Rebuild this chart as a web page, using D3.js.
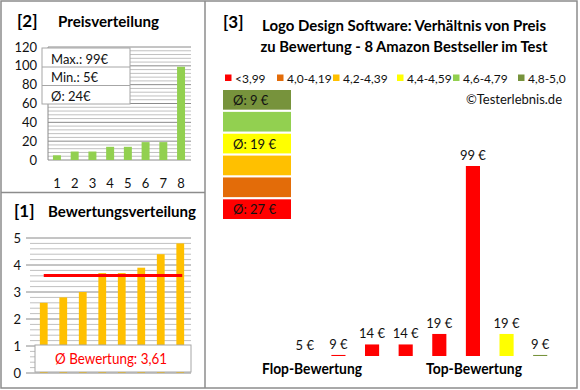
<!DOCTYPE html>
<html><head><meta charset="utf-8">
<script src="https://cdn.jsdelivr.net/npm/d3@7"></script>
<style>
html,body{margin:0;padding:0;background:#fff;}
svg{display:block;font-family:Lato,"Open Sans",sans-serif;}
</style></head>
<body><svg id="c" width="580" height="390"></svg>
<script>
// ---- data ----
const priceRank = ["1","2","3","4","5","6","7","8"];
const pricesSorted = [5, 9, 9, 14, 14, 19, 19, 99];
const priceTicks = [0, 20, 40, 60, 80, 100, 120];
const priceStats = ["Max.: 99€", "Min.: 5€", "Ø: 24€"];

const ratingsSorted = [2.6, 2.8, 3.0, 3.7, 3.7, 3.9, 4.4, 4.8];
const ratingTicks = [0, 1, 2, 3, 4, 5];
const avgRating = 3.61;
const avgRatingLabel = "Ø Bewertung: 3,61";

const productIds = ["p1","p2","p3","p4","p5","p6","p7","p8"];
const productPrices = [5, 9, 14, 14, 19, 99, 19, 9];
const productRatings = [2.6, 2.8, 3.0, 3.7, 3.7, 3.9, 4.4, 4.8];

const classLabels = ["<3,99","4,0-4,19","4,2-4,39","4,4-4,59","4,6-4,79","4,8-5,0"];
const classLower = [0, 4.0, 4.2, 4.4, 4.6, 4.8];
const classColors = ["#FF0000","#E36C09","#FFC000","#FFFF00","#92D050","#77933C"];

const title3 = ["Logo Design Software: Verhältnis von Preis", "zu Bewertung - 8 Amazon Bestseller im Test"];

// ---- drawing ----
const svg = d3.select("#c");
const gray = "#8c8c8c";

// frame
svg.append("rect").attr("x",1).attr("y",1).attr("width",576).attr("height",387)
  .attr("fill","none").attr("stroke",gray).attr("stroke-width",1.5);
svg.append("line").attr("x1",205).attr("x2",205).attr("y1",1).attr("y2",388).attr("stroke",gray).attr("stroke-width",1.5);
svg.append("line").attr("x1",1).attr("x2",205).attr("y1",192.5).attr("y2",192.5).attr("stroke",gray).attr("stroke-width",1.5);

// ===== Panel [2] Preisverteilung =====
{
  const g = svg.append("g");
  g.append("text").attr("x",17).attr("y",27).attr("font-size",17).attr("font-weight","bold").text("[2]");
  g.append("text").attr("x",58).attr("y",27).attr("font-size",15).attr("font-weight","bold")
    .attr("textLength",101).attr("lengthAdjust","spacingAndGlyphs").text("Preisverteilung");
  const x = d3.scaleBand().domain(priceRank).range([48,190]).paddingInner(0.55).paddingOuter(0.28);
  const y = d3.scaleLinear().domain([0,120]).range([160,47]);
  const minor = d3.range(0,121,4);
  g.selectAll(".mn").data(minor).join("line").attr("x1",48).attr("x2",191)
    .attr("y1",d=>y(d)).attr("y2",d=>y(d)).attr("stroke",d=>d%20===0?"#8a8a8a":"#c0c0c0").attr("stroke-width",1);
  g.append("line").attr("x1",48).attr("x2",48).attr("y1",47).attr("y2",160).attr("stroke","#8a8a8a");
  g.selectAll(".yl").data(priceTicks).join("text").attr("x",37).attr("y",d=>y(d)+4.5)
    .attr("text-anchor","end").attr("font-size",13).attr("fill","#111").text(d=>d);
  g.selectAll(".bar").data(pricesSorted).join("rect")
    .attr("x",(d,i)=>x(priceRank[i])).attr("width",x.bandwidth())
    .attr("y",d=>y(d)).attr("height",d=>y(0)-y(d)).attr("fill","#92D050");
  g.selectAll(".xl").data(priceRank).join("text").attr("x",d=>x(d)+x.bandwidth()/2).attr("y",188)
    .attr("text-anchor","middle").attr("font-size",13).attr("fill","#111").text(d=>d);
  // stats box
  g.append("rect").attr("x",42).attr("y",48).attr("width",88).attr("height",56).attr("fill","#fff").attr("stroke","#a6a6a6");
  g.append("line").attr("x1",42).attr("x2",130).attr("y1",67).attr("y2",67).attr("stroke","#a6a6a6");
  g.append("line").attr("x1",42).attr("x2",130).attr("y1",85.5).attr("y2",85.5).attr("stroke","#a6a6a6");
  g.selectAll(".st").data(priceStats).join("text").attr("x",51).attr("y",(d,i)=>63.5+i*18.5)
    .attr("font-size",13).attr("fill","#111").text(d=>d);
}

// ===== Panel [1] Bewertungsverteilung =====
{
  const g = svg.append("g");
  g.append("text").attr("x",14).attr("y",217).attr("font-size",17).attr("font-weight","bold").text("[1]");
  g.append("text").attr("x",48).attr("y",217).attr("font-size",15).attr("font-weight","bold")
    .attr("textLength",148).attr("lengthAdjust","spacingAndGlyphs").text("Bewertungsverteilung");
  const x = d3.scaleBand().domain(priceRank).range([34,190]).paddingInner(0.6).paddingOuter(0.3);
  const y = d3.scaleLinear().domain([0,5]).range([373,238]);
  const minor = d3.range(0,26).map(i=>i/5);
  g.selectAll(".mn").data(minor).join("line").attr("x1",30).attr("x2",191)
    .attr("y1",d=>y(d)).attr("y2",d=>y(d)).attr("stroke",(d,i)=>i%5===0?"#8a8a8a":"#c0c0c0");
  g.selectAll(".tk").data(ratingTicks).join("line").attr("x1",26).attr("x2",30)
    .attr("y1",d=>y(d)).attr("y2",d=>y(d)).attr("stroke","#8a8a8a");
  g.selectAll(".yl").data(ratingTicks).join("text").attr("x",21).attr("y",d=>y(d)+4.5)
    .attr("text-anchor","end").attr("font-size",13).attr("fill","#111").text(d=>d);
  g.selectAll(".bar").data(ratingsSorted).join("rect")
    .attr("x",(d,i)=>x(priceRank[i])).attr("width",x.bandwidth())
    .attr("y",d=>y(d)).attr("height",d=>y(0)-y(d)).attr("fill","#FFC000");
  g.append("line").attr("x1",x(priceRank[0])+x.bandwidth()/2).attr("x2",x(priceRank[7])+x.bandwidth()/2+2)
    .attr("y1",y(avgRating)).attr("y2",y(avgRating)).attr("stroke","#FF0000").attr("stroke-width",3);
  g.append("rect").attr("x",35).attr("y",y(1)-1).attr("width",156).attr("height",y(0)-y(1)).attr("fill","#fff").attr("stroke","#a6a6a6");
  g.append("text").attr("x",111).attr("y",364).attr("text-anchor","middle").attr("font-size",14.5)
    .attr("fill","#FF0000").attr("textLength",112).attr("lengthAdjust","spacingAndGlyphs").text(avgRatingLabel);
}

// ===== Panel [3] =====
{
  const g = svg.append("g");
  g.append("text").attr("x",223).attr("y",28).attr("font-size",17).attr("font-weight","bold").text("[3]");
  g.selectAll(".tt").data(title3).join("text").attr("x",404).attr("y",(d,i)=>31+i*21)
    .attr("text-anchor","middle").attr("font-size",14.5).attr("font-weight","bold")
    .attr("textLength",(d,i)=>i===0?284:287).attr("lengthAdjust","spacingAndGlyphs").text(d=>d);

  // legend
  const legPos = [225,277,333,397,453,518];
  const lg = g.selectAll(".lg").data(classLabels).join("g")
    .attr("transform",(d,i)=>`translate(${legPos[i]},0)`);
  lg.append("rect").attr("x",0).attr("y",74.5).attr("width",6.5).attr("height",6.5).attr("fill",(d,i)=>classColors[i]);
  lg.append("text").attr("x",10).attr("y",82.5).attr("font-size",12).attr("fill","#111").text(d=>d);

  g.append("text").attr("x",562).attr("y",104).attr("text-anchor","end").attr("font-size",13).attr("fill","#111").text("©Testerlebnis.de");

  const cls = r => { let k=0; classLower.forEach((l,i)=>{ if(r>=l) k=i; }); return k; };

  // class blocks with average prices
  const order = d3.range(classLabels.length).reverse();
  const by = d3.scaleBand().domain(order).range([90,219]).paddingInner(0.1);
  const blocks = g.selectAll(".blk").data(order).join("g");
  blocks.append("rect").attr("x",223).attr("width",68).attr("y",d=>by(d)).attr("height",by.bandwidth())
    .attr("fill",d=>classColors[d]);
  blocks.append("text").attr("x",233).attr("y",d=>by(d)+by.bandwidth()/2+5).attr("font-size",13).attr("fill","#111")
    .text(d=>{
      const ps = productPrices.filter((p,i)=>cls(productRatings[i])===d);
      return ps.length ? "Ø: " + Math.round(d3.mean(ps)) + " €" : "";
    });

  // bars
  const x = d3.scaleBand().domain(productIds).range([288,557]).paddingInner(0.58).paddingOuter(0.29);
  const y = d3.scaleLinear().domain([8.5,99]).range([356,166]);
  const base = y(8.5);
  g.selectAll(".pb").data(productPrices).join("rect")
    .attr("x",(d,i)=>x(productIds[i])).attr("width",x.bandwidth())
    .attr("y",d=>Math.min(base,y(d))).attr("height",d=>Math.max(0,base-y(d)))
    .attr("fill",(d,i)=>classColors[cls(productRatings[i])]);
  g.selectAll(".pl").data(productPrices).join("text")
    .attr("x",(d,i)=>x(productIds[i])+x.bandwidth()/2).attr("y",d=>Math.min(base,y(d))-6)
    .attr("text-anchor","middle").attr("font-size",13).attr("fill","#111").text(d=>d+" €");

  g.append("text").attr("x",312).attr("y",374).attr("text-anchor","middle").attr("font-size",14.5).attr("font-weight","bold")
    .attr("textLength",100).attr("lengthAdjust","spacingAndGlyphs").text("Flop-Bewertung");
  g.append("text").attr("x",474).attr("y",374).attr("text-anchor","middle").attr("font-size",14.5).attr("font-weight","bold")
    .attr("textLength",96).attr("lengthAdjust","spacingAndGlyphs").text("Top-Bewertung");
}
</script></body></html>
